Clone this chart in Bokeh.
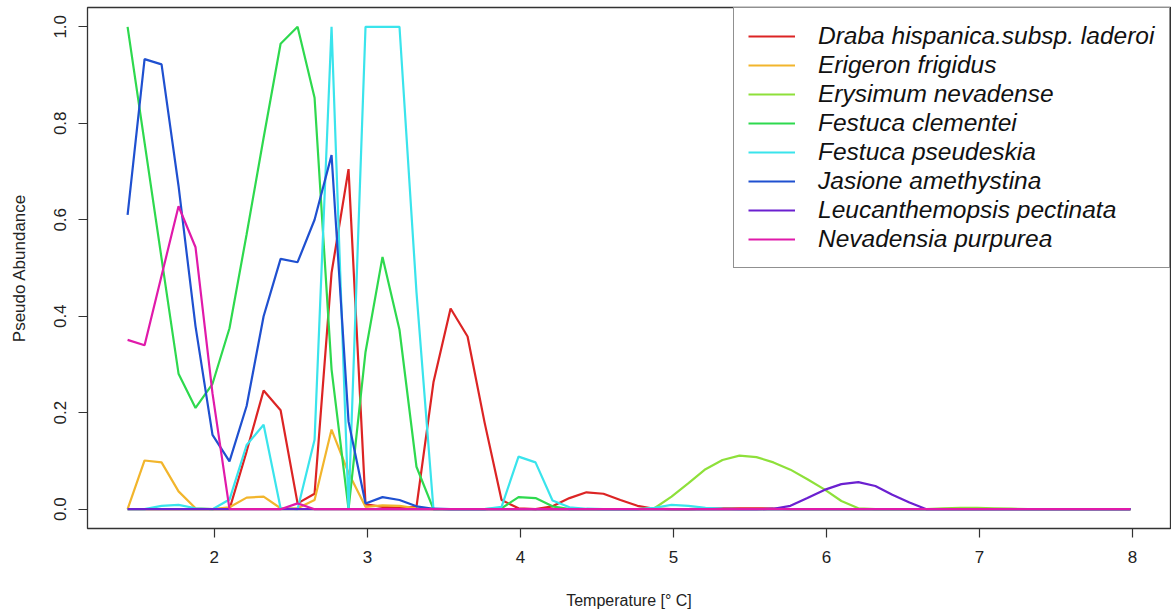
from bokeh.plotting import figure
from bokeh.models import Range1d, FixedTicker, Legend, LegendItem, NumeralTickFormatter
from bokeh.embed import file_html
from bokeh.resources import INLINE

temperature = [1.433, 1.544, 1.655, 1.766, 1.877, 1.988, 2.099, 2.211, 2.322, 2.433,
               2.544, 2.655, 2.766, 2.877, 2.988, 3.099, 3.210, 3.321, 3.432, 3.544,
               3.655, 3.766, 3.877, 3.988, 4.099, 4.210, 4.321, 4.432, 4.543, 4.654,
               4.765, 4.876, 4.988, 5.099, 5.210, 5.321, 5.432, 5.543, 5.654, 5.765,
               5.876, 5.987, 6.098, 6.209, 6.320, 6.431, 6.543, 6.654, 6.765, 6.876,
               6.987, 7.098, 7.209, 7.320, 7.431, 7.542, 7.653, 7.764, 7.876, 7.987]

draba = [0, 0, 0, 0, 0, 0, 0, 0.12, 0.246, 0.205,
         0.012, 0.032, 0.49, 0.705, 0.01, 0.005, 0.003, 0.005, 0.263, 0.416,
         0.358, 0.18, 0.019, 0.002, 0, 0.006, 0.023, 0.035, 0.032, 0.019,
         0.007, 0.001, 0, 0, 0.001, 0.002, 0.002, 0.002, 0.001, 0,
         0, 0, 0, 0, 0, 0, 0, 0, 0, 0,
         0, 0, 0, 0, 0, 0, 0, 0, 0, 0]

erigeron = [0, 0.101, 0.097, 0.037, 0.002, 0, 0.004, 0.024, 0.026, 0.002,
            0.002, 0.019, 0.165, 0.075, 0.005, 0.008, 0.007, 0.002, 0, 0,
            0, 0, 0, 0, 0, 0, 0, 0, 0, 0,
            0, 0, 0, 0, 0, 0, 0, 0, 0, 0,
            0, 0, 0, 0, 0, 0, 0, 0, 0, 0,
            0, 0, 0, 0, 0, 0, 0, 0, 0, 0]

erysimum = [0, 0, 0, 0, 0, 0, 0, 0, 0, 0,
            0, 0, 0, 0, 0, 0, 0, 0, 0, 0,
            0, 0, 0, 0, 0, 0, 0, 0, 0, 0,
            0, 0.002, 0.026, 0.054, 0.083, 0.102, 0.111, 0.108, 0.097, 0.082,
            0.062, 0.041, 0.017, 0.002, 0, 0, 0, 0, 0.002, 0.003,
            0.003, 0.002, 0.001, 0, 0, 0, 0, 0, 0, 0]

festuca_clementei = [1.0, 0.76, 0.52, 0.281, 0.21, 0.26, 0.375, 0.57, 0.77, 0.965,
                     1.0, 0.853, 0.29, 0, 0.326, 0.523, 0.372, 0.088, 0, 0,
                     0, 0, 0.002, 0.025, 0.023, 0.006, 0, 0, 0, 0,
                     0, 0, 0, 0, 0, 0, 0, 0, 0, 0,
                     0, 0, 0, 0, 0, 0, 0, 0, 0, 0,
                     0, 0, 0, 0, 0, 0, 0, 0, 0, 0]

festuca_pseudeskia = [0, 0, 0.007, 0.009, 0.002, 0, 0.02, 0.133, 0.175, 0.002,
                      0, 0.144, 1.0, 0, 1.0, 1.0, 1.0, 0.45, 0, 0,
                      0, 0, 0.005, 0.109, 0.097, 0.018, 0.004, 0.001, 0, 0,
                      0, 0.003, 0.009, 0.007, 0.003, 0.001, 0, 0, 0, 0,
                      0, 0, 0, 0, 0, 0, 0, 0, 0, 0,
                      0, 0, 0, 0, 0, 0, 0, 0, 0, 0]

jasione = [0.61, 0.933, 0.922, 0.67, 0.379, 0.154, 0.099, 0.214, 0.40, 0.519,
           0.512, 0.60, 0.734, 0.182, 0.012, 0.025, 0.019, 0.006, 0.001, 0,
           0, 0, 0, 0, 0, 0, 0, 0, 0, 0,
           0, 0, 0, 0, 0, 0, 0, 0, 0, 0,
           0, 0, 0, 0, 0, 0, 0, 0, 0, 0,
           0, 0, 0, 0, 0, 0, 0, 0, 0, 0]

leucanthemopsis = [0, 0, 0, 0, 0, 0, 0, 0, 0, 0,
                   0, 0, 0, 0, 0, 0, 0, 0, 0, 0,
                   0, 0, 0, 0, 0, 0, 0, 0, 0, 0,
                   0, 0, 0, 0, 0, 0, 0, 0, 0.001, 0.007,
                   0.023, 0.040, 0.052, 0.056, 0.048, 0.030, 0.014, 0, 0, 0,
                   0, 0, 0, 0, 0, 0, 0, 0, 0, 0]

nevadensia = [0.351, 0.34, 0.484, 0.628, 0.543, 0.24, 0, 0, 0, 0,
              0.012, 0, 0, 0, 0, 0, 0, 0, 0, 0,
              0, 0, 0, 0, 0, 0, 0, 0, 0, 0,
              0, 0, 0, 0, 0, 0, 0, 0, 0, 0,
              0, 0, 0, 0, 0, 0, 0, 0, 0, 0,
              0, 0, 0, 0, 0, 0, 0, 0, 0, 0]

species = ["Draba hispanica.subsp. laderoi", "Erigeron frigidus", "Erysimum nevadense",
           "Festuca clementei", "Festuca pseudeskia", "Jasione amethystina",
           "Leucanthemopsis pectinata", "Nevadensia purpurea"]
series = [draba, erigeron, erysimum, festuca_clementei, festuca_pseudeskia,
          jasione, leucanthemopsis, nevadensia]
colors = ["#dc2424", "#f2b52c", "#8ee03a", "#2ed94e", "#3ae4ec", "#1f50d0",
          "#6b20d0", "#e01aaa"]

x_ticks = [2, 3, 4, 5, 6, 7, 8]
y_ticks = [0.0, 0.2, 0.4, 0.6, 0.8, 1.0]

FONT = "Liberation Sans"

p = figure(width=1171, height=614, output_backend="svg", toolbar_location=None,
           x_range=Range1d(1.171, 8.249), y_range=Range1d(-0.04, 1.04),
           min_border_left=87, min_border_right=1, min_border_top=7,
           min_border_bottom=86)
p.background_fill_color = "white"
p.border_fill_color = "white"
p.outline_line_color = "#333333"
p.outline_line_width = 1.3
p.xgrid.visible = False
p.ygrid.visible = False

items = []
for name, ys, c in zip(species, series, colors):
    r = p.line(temperature, ys, line_color=c, line_width=2.2)
    items.append(LegendItem(label=name, renderers=[r]))

legend = Legend(items=items, location="top_right")
legend.margin = 0
legend.padding = 14
legend.spacing = 1
legend.glyph_width = 47
legend.glyph_height = 28
legend.label_height = 28
legend.label_width = 337
legend.label_standoff = 23
legend.label_text_font = FONT
legend.label_text_font_style = "italic"
legend.label_text_font_size = "24.5px"
legend.label_text_color = "#111111"
legend.border_line_color = "#222222"
legend.border_line_width = 1.3
legend.background_fill_color = "white"
legend.background_fill_alpha = 1.0
p.add_layout(legend)

p.xaxis.ticker = FixedTicker(ticks=x_ticks)
p.yaxis.ticker = FixedTicker(ticks=y_ticks)
p.yaxis.formatter = NumeralTickFormatter(format="0.0")
p.yaxis.major_label_orientation = "vertical"

for ax in (p.xaxis, p.yaxis):
    ax.axis_line_color = None
    ax.major_tick_line_color = "#333333"
    ax.major_tick_line_width = 1.2
    ax.major_tick_in = 0
    ax.major_tick_out = 9
    ax.minor_tick_line_color = None
    ax.major_label_text_font = FONT
    ax.major_label_text_font_size = "17px"
    ax.major_label_text_color = "#222222"
    ax.axis_label_text_font = FONT
    ax.axis_label_text_font_style = "normal"
    ax.axis_label_text_color = "#222222"

p.xaxis.axis_label = "Temperature [° C]"
p.xaxis.axis_label_text_font_size = "16px"
p.xaxis.major_label_standoff = 13
p.xaxis.axis_label_standoff = 26

p.yaxis.axis_label = "Pseudo Abundance"
p.yaxis.axis_label_text_font_size = "17px"
p.yaxis.major_label_standoff = 12
p.yaxis.axis_label_standoff = 23

open("out.html", "w").write(file_html(p, INLINE))
